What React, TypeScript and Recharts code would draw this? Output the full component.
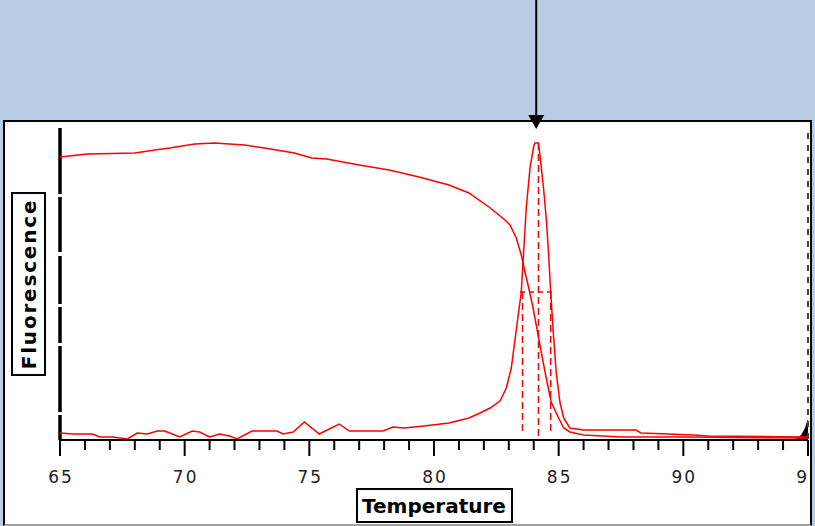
import React from 'react';
import { ComposedChart, Line, Area, XAxis, YAxis, ReferenceLine } from 'recharts';

// Melt curve (raw fluorescence vs temperature)
const meltTemps = [65.0, 66.1, 68.0, 68.8, 69.4, 70.4, 71.2, 72.4, 73.2, 74.4, 75.1, 75.7, 77.0, 78.2, 79.4, 80.6, 81.4, 82.2, 82.85, 83.05, 83.3, 83.5, 83.65, 83.8, 83.95, 84.1, 84.3, 84.5, 84.7, 85.0, 85.2, 85.45, 86.0, 87.5, 90.0, 95.0];
const meltValues = [283, 286, 287, 290, 292, 296, 297, 295, 292, 287, 282, 281, 275, 270, 263, 255, 247, 233, 220, 215, 202, 185, 168, 152, 135, 115, 88, 62, 38, 22, 12, 8, 5, 3, 3, 2];

// Derivative (melt peak) curve
const peakTemps = [65.0, 65.5, 66.3, 66.6, 67.1, 67.7, 68.1, 68.5, 68.9, 69.2, 69.8, 70.3, 70.6, 71.0, 71.4, 71.8, 72.1, 72.7, 73.7, 73.95, 74.35, 74.8, 75.4, 75.8, 76.2, 76.6, 77.95, 78.35, 78.8, 79.6, 80.6, 81.4, 81.85, 82.25, 82.65, 82.9, 83.1, 83.3, 83.5, 83.6, 83.7, 83.85, 84.0, 84.05, 84.19, 84.25, 84.4, 84.5, 84.6, 84.68, 84.8, 84.9, 85.05, 85.2, 85.45, 86.0, 88.1, 88.3, 89.4, 90.4, 91.0, 95.0];
const peakValues = [7, 6, 6, 3, 3, 1, 7, 6, 9, 9, 3, 9, 8, 3, 6, 4, 1, 9, 9, 6, 8, 18, 6, 11, 16, 9, 9, 13, 12, 14, 17, 22, 27, 32, 39, 52, 72, 110, 148, 190, 232, 272, 294, 297, 297, 285, 250, 222, 185, 148, 102, 68, 38, 22, 12, 10, 10, 7, 6, 5, 4, 3];

// Small filled marker at the end of the run
const endTemps = [94.5, 94.75, 94.9, 95.0];
const endValues = [0, 5, 12, 20];

const xTicks = [65, 66, 67, 68, 69, 70, 71, 72, 73, 74, 75, 76, 77, 78, 79, 80, 81, 82, 83, 84, 85, 86, 87, 88, 89, 90, 91, 92, 93, 94, 95];

const tmLeft = 83.55;
const tmPeak = 84.19;
const tmRight = 84.68;
const peakMax = 297;
const halfMax = 148;
const tailLevel = 8;
const arrowTemp = 84.1;
const yTop = 312;

const meltData = meltTemps.map((t, i) => ({ t, v: meltValues[i] }));
const peakData = peakTemps.map((t, i) => ({ t, v: peakValues[i] }));
const endData = endTemps.map((t, i) => ({ t, v: endValues[i] }));

const XTick = (props: any) => {
  const { x, y, payload } = props;
  const v = payload.value;
  const major = v % 5 === 0;
  return (
    <g>
      <line x1={x} x2={x} y1={y} y2={y + (major ? 16 : 10)} stroke="#000" strokeWidth={2} />
      {major && (
        <text x={x + 1} y={y + 43} textAnchor="middle" fontFamily="DejaVu Sans" fontSize={17} letterSpacing={2} fill="#222">
          {v}
        </text>
      )}
    </g>
  );
};

const ArrowShape = (props: any) => {
  const { x1, y1, y2 } = props;
  const top = Math.min(y1, y2);
  const tip = Math.max(y1, y2);
  return (
    <g>
      <line x1={x1} x2={x1} y1={top} y2={tip - 12} stroke="#000" strokeWidth={2} />
      <polygon points={`${x1 - 8},${tip - 14} ${x1 + 8},${tip - 14} ${x1},${tip}`} fill="#000" />
    </g>
  );
};

const XLabel = (props: any) => {
  const { viewBox } = props;
  const cx = viewBox.x + viewBox.width / 2;
  const top = viewBox.y + 49;
  return (
    <g>
      <rect x={cx - 77} y={top} width={155} height={33} fill="#fff" stroke="#000" strokeWidth={2} />
      <text x={cx} y={top + 24} textAnchor="middle" fontFamily="DejaVu Sans" fontWeight="bold" fontSize={20} fill="#000">
        Temperature
      </text>
    </g>
  );
};

const YLabel = (props: any) => {
  const { viewBox } = props;
  const cy = viewBox.y + viewBox.height / 2;
  const left = viewBox.x - 48;
  return (
    <g>
      <rect x={left} y={cy - 91} width={33} height={182} fill="#fff" stroke="#000" strokeWidth={2} />
      <text
        x={left + 24}
        y={cy}
        textAnchor="middle"
        transform={`rotate(-90, ${left + 24}, ${cy})`}
        fontFamily="DejaVu Sans"
        fontWeight="bold"
        fontSize={20}
        letterSpacing={1.8}
        fill="#000"
      >
        Fluorescence
      </text>
    </g>
  );
};

export default function App() {
  const red = '#ff0000';
  return (
    <div style={{ position: 'absolute', left: 0, top: 0, width: 815, height: 526, background: '#b8cce4', overflow: 'hidden' }}>
      <div style={{ position: 'absolute', left: 3, top: 120, width: 809, height: 406, background: '#fff' }} />
      <div style={{ position: 'absolute', left: 0, top: 0, width: 810, height: 526, overflow: 'hidden' }}>
        <ComposedChart width={815} height={526} margin={{ top: 128, right: 7, bottom: 26, left: 60 }}>
          <XAxis
            dataKey="t"
            type="number"
            domain={[65, 95]}
            ticks={xTicks}
            interval={0}
            allowDataOverflow
            tickSize={0}
            tickMargin={0}
            tickLine={false}
            tick={<XTick />}
            height={60}
            axisLine={{ stroke: '#000', strokeWidth: 2 }}
            label={<XLabel />}
          />
          <YAxis type="number" domain={[0, yTop]} hide allowDataOverflow />
          <ReferenceLine
            segment={[{ x: 65, y: yTop }, { x: 65, y: 0 }]}
            stroke="#000"
            strokeWidth={3.5}
            strokeDasharray="66 3 55 4 48 3 36 3"
            ifOverflow="visible"
            label={<YLabel />}
          />
          <ReferenceLine
            segment={[{ x: 95, y: 307 }, { x: 95, y: 0 }]}
            stroke="#444"
            strokeWidth={2}
            strokeDasharray="6 6"
            ifOverflow="visible"
          />
          <Area data={endData} dataKey="v" type="linear" stroke="#000" fill="#000" fillOpacity={1} isAnimationActive={false} />
          <Line data={meltData} dataKey="v" type="linear" stroke={red} strokeWidth={1.5} dot={false} isAnimationActive={false} />
          <Line data={peakData} dataKey="v" type="linear" stroke={red} strokeWidth={1.5} dot={false} isAnimationActive={false} />
          <ReferenceLine segment={[{ x: tmLeft, y: halfMax }, { x: tmLeft, y: tailLevel }]} stroke={red} strokeWidth={1.5} strokeDasharray="7 4" />
          <ReferenceLine segment={[{ x: tmPeak, y: peakMax }, { x: tmPeak, y: 0 }]} stroke={red} strokeWidth={1.5} strokeDasharray="7 4" />
          <ReferenceLine segment={[{ x: tmRight, y: halfMax }, { x: tmRight, y: tailLevel }]} stroke={red} strokeWidth={1.5} strokeDasharray="7 4" />
          <ReferenceLine segment={[{ x: tmLeft - 0.1, y: halfMax }, { x: tmRight + 0.1, y: halfMax }]} stroke={red} strokeWidth={1.5} strokeDasharray="5 4" />
          <ReferenceLine
            segment={[{ x: arrowTemp, y: 440 }, { x: arrowTemp, y: 311 }]}
            ifOverflow="visible"
            shape={<ArrowShape />}
          />
        </ComposedChart>
      </div>
      <div
        style={{
          position: 'absolute',
          left: 3,
          top: 120,
          width: 809,
          height: 406,
          boxSizing: 'border-box',
          borderTop: '2px solid #000',
          borderLeft: '2px solid #000',
          borderRight: '2px solid #000',
          borderBottom: '2px solid #a0a0a0',
          pointerEvents: 'none',
        }}
      />
    </div>
  );
}
